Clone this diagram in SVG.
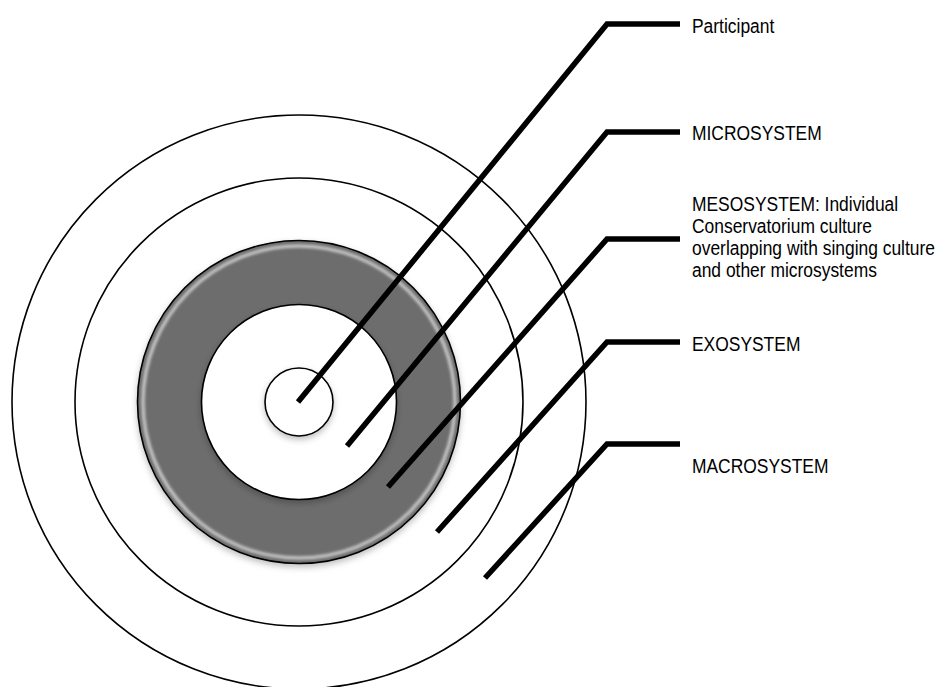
<svg xmlns="http://www.w3.org/2000/svg" width="937" height="687" viewBox="0 0 937 687">
  <defs>
    <style>
      .ring { fill: #ffffff; stroke: #000000; stroke-width: 1.6; }
      .lead { fill: none; stroke: #000000; stroke-width: 5.5; stroke-linejoin: miter; stroke-linecap: butt; }
      .lbl { font-family: "Liberation Sans", Arial, sans-serif; font-size: 21px; fill: #000000; }
    </style>
    <filter id="shadow" x="-20%" y="-20%" width="140%" height="140%">
      <feDropShadow dx="0" dy="3" stdDeviation="3" flood-color="#000000" flood-opacity="0.25"/>
    </filter>
    <filter id="soft" x="-10%" y="-10%" width="120%" height="120%">
      <feGaussianBlur stdDeviation="1.6"/>
    </filter>
  </defs>

  <rect x="0" y="0" width="937" height="687" fill="#ffffff"/>

  <g id="macrosystem">
    <circle class="ring" cx="299" cy="402" r="287"/>
  </g>
  <g id="exosystem">
    <circle class="ring" cx="299" cy="402" r="224"/>
  </g>
  <g id="mesosystem">
    <circle cx="299" cy="402" r="161.5" fill="#6d6d6d" stroke="#000000" stroke-width="1.6" filter="url(#shadow)"/>
    <circle cx="299" cy="402" r="156" fill="none" stroke="#ffffff" stroke-width="3" stroke-opacity="0.7" filter="url(#soft)"/>
  </g>
  <g id="microsystem">
    <circle class="ring" cx="299" cy="402" r="97.5" filter="url(#shadow)"/>
  </g>
  <g id="participant">
    <circle class="ring" cx="299" cy="402" r="34" filter="url(#shadow)"/>
  </g>

  <g id="connectors">
    <polyline class="lead" points="298,402 607,24 680,24"/>
    <polyline class="lead" points="347,446 607,132 680,132"/>
    <polyline class="lead" points="388,487 607,239 680,239"/>
    <polyline class="lead" points="437,532 607,342 680,342"/>
    <polyline class="lead" points="485,578 607,444 680,444"/>
  </g>

  <g id="labels">
    <text class="lbl" transform="translate(692,33) scale(0.83,1)">Participant</text>
    <text class="lbl" transform="translate(692,140) scale(0.83,1)">MICROSYSTEM</text>
    <text class="lbl" transform="translate(692,211) scale(0.83,1)">MESOSYSTEM: Individual</text>
    <text class="lbl" transform="translate(692,233) scale(0.83,1)">Conservatorium culture</text>
    <text class="lbl" transform="translate(692,255) scale(0.83,1)">overlapping with singing culture</text>
    <text class="lbl" transform="translate(692,277) scale(0.83,1)">and other microsystems</text>
    <text class="lbl" transform="translate(692,351) scale(0.83,1)">EXOSYSTEM</text>
    <text class="lbl" transform="translate(692,473) scale(0.83,1)">MACROSYSTEM</text>
  </g>
</svg>
